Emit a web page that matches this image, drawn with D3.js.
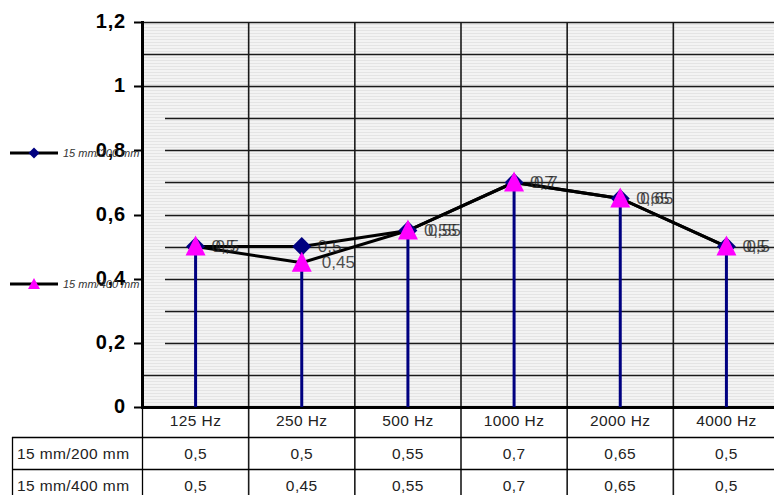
<!DOCTYPE html>
<html><head><meta charset="utf-8">
<script src="https://cdn.jsdelivr.net/npm/d3@7"></script>
<style>body{margin:0;background:#fff}svg{display:block}</style>
</head><body>
<svg id="c" width="774" height="495"></svg>
<script>
const categories = ["125 Hz","250 Hz","500 Hz","1000 Hz","2000 Hz","4000 Hz"];
const seriesNames = ["15 mm/200 mm","15 mm/400 mm"];
const series1 = [0.5,0.5,0.55,0.7,0.65,0.5];
const series2 = [0.5,0.45,0.55,0.7,0.65,0.5];
const yTicks = [0,0.2,0.4,0.6,0.8,1,1.2];
const gridVals = [0.1,0.2,0.3,0.4,0.5,0.6,0.7,0.8,0.9,1.0,1.1,1.2];

const fmt = v => String(+v.toFixed(2)).replace(".", ",");
const svg = d3.select("#c");
const x = d3.scaleBand().domain(categories).range([142.5, 779.5]);
const y = d3.scaleLinear().domain([0,1.2]).range([407, 22]);
const L = 142.5, R = 779.5, T = y(1.2), B = y(0);
const FONT = "Liberation Sans, Arial, Helvetica";

// background stripes
const defs = svg.append("defs");
const pat = defs.append("pattern").attr("id","stripe").attr("patternUnits","userSpaceOnUse")
  .attr("width",8).attr("height",3);
pat.append("rect").attr("width",8).attr("height",3).attr("fill","#f3f3f3");
pat.append("rect").attr("y",0).attr("width",8).attr("height",1).attr("fill","#e4e4e4");
svg.append("rect").attr("x",L).attr("y",T).attr("width",R-L).attr("height",B-T).attr("fill","url(#stripe)");

// horizontal gridlines
svg.append("g").selectAll("line").data(gridVals).join("line")
  .attr("x1", d => (d>=0.15 && d<=0.95) ? 165 : L).attr("x2", R)
  .attr("y1", d => Math.round(y(d))+0.5).attr("y2", d => Math.round(y(d))+0.5)
  .attr("stroke","#1a1a1a").attr("stroke-width",1.6);

// vertical column separators (plot + table)
const bounds = categories.slice(1).map(c => x(c));
svg.append("g").selectAll("line").data(bounds).join("line")
  .attr("x1", d=>d).attr("x2", d=>d).attr("y1", T).attr("y2", 495)
  .attr("stroke","#1a1a1a").attr("stroke-width",1.6);

// table
const tg = svg.append("g");
[437.5, 469.5].forEach(yy => tg.append("line").attr("x1",12).attr("x2",R).attr("y1",yy).attr("y2",yy).attr("stroke","#000").attr("stroke-width",1.3));
tg.append("line").attr("x1",12.5).attr("x2",12.5).attr("y1",437).attr("y2",495).attr("stroke","#000").attr("stroke-width",1.3);
tg.append("line").attr("x1",L).attr("x2",L).attr("y1",407).attr("y2",495).attr("stroke","#000").attr("stroke-width",1.3);
tg.selectAll("text.cat").data(categories).join("text").attr("class","cat")
  .attr("x", d => x(d)+x.bandwidth()/2).attr("y",422).attr("text-anchor","middle").attr("dominant-baseline","middle")
  .attr("font-family",FONT).attr("font-size",15.5).attr("letter-spacing",0.4).attr("fill","#222").text(d=>d);
[series1, series2].forEach((s,i) => {
  const yy = i===0 ? 455 : 487;
  tg.append("text").attr("x",17).attr("y",yy).attr("dominant-baseline","middle")
    .attr("font-family",FONT).attr("font-size",15.5).attr("letter-spacing",0.4).attr("fill","#222").text(seriesNames[i]);
  tg.selectAll("text.v"+i).data(s).join("text").attr("class","v"+i)
    .attr("x",(d,j)=>x(categories[j])+x.bandwidth()/2).attr("y",yy).attr("text-anchor","middle").attr("dominant-baseline","middle")
    .attr("font-family",FONT).attr("font-size",15.5).attr("letter-spacing",0.4).attr("fill","#222").text(d=>fmt(d));
});

// axes
svg.append("line").attr("x1",L).attr("x2",R).attr("y1",B+0.5).attr("y2",B+0.5).attr("stroke","#000").attr("stroke-width",3);
svg.append("line").attr("x1",L).attr("x2",L).attr("y1",T-1).attr("y2",B+2).attr("stroke","#000").attr("stroke-width",3);
svg.append("g").selectAll("line").data(yTicks).join("line")
  .attr("x1",134).attr("x2",L).attr("y1",d=>Math.round(y(d))+0.5).attr("y2",d=>Math.round(y(d))+0.5)
  .attr("stroke","#000").attr("stroke-width",2);

// drop lines
const cx = c => x(c) + x.bandwidth()/2;
svg.append("g").selectAll("line").data(categories).join("line")
  .attr("x1",cx).attr("x2",cx).attr("y1",(c,i)=>y(Math.max(series1[i],series2[i]))).attr("y2",B)
  .attr("stroke","#000080").attr("stroke-width",3);

// lines
const line = d3.line().x((d,i)=>cx(categories[i])).y(d=>y(d));
[series1, series2].forEach(s => svg.append("path").attr("d", line(s)).attr("fill","none").attr("stroke","#000").attr("stroke-width",3));

// markers
const diamond = d3.symbol().type(d3.symbolSquare).size(180);
svg.append("g").selectAll("path").data(series1).join("path")
  .attr("d", diamond()).attr("transform",(d,i)=>`translate(${cx(categories[i])},${y(d)}) rotate(45)`)
  .attr("fill","#000080");
const tri = "M0,-10L10,10L-10,10Z";
svg.append("g").selectAll("path").data(series2).join("path")
  .attr("d", tri).attr("transform",(d,i)=>`translate(${cx(categories[i])},${y(d)-1})`)
  .attr("fill","#ff00ff");

// data labels
[series1, series2].forEach((s,k) => {
  svg.append("g").selectAll("text").data(s).join("text")
    .attr("x",(d,i)=>cx(categories[i]) + 16 + k*4).attr("y",d=>y(d)+1).attr("dominant-baseline","middle")
    .attr("font-family",FONT).attr("font-size",17).attr("fill","#222").attr("fill-opacity",0.8)
    .text(d=>fmt(d));
});

// y tick labels
svg.append("g").selectAll("text").data(yTicks).join("text")
  .attr("x",126).attr("y",d=>y(d)+1).attr("text-anchor","end").attr("dominant-baseline","middle")
  .attr("font-family",FONT).attr("font-weight","bold").attr("font-size",20).attr("letter-spacing",0.8).attr("fill","#000")
  .text(d=>fmt(d));

// legend
const lg = svg.append("g");
[153, 284].forEach((yy,i) => {
  lg.append("line").attr("x1",10).attr("x2",58).attr("y1",yy).attr("y2",yy).attr("stroke","#000").attr("stroke-width",3);
  if (i===0) lg.append("path").attr("d", d3.symbol().type(d3.symbolSquare).size(60)()).attr("transform",`translate(34,${yy}) rotate(45)`).attr("fill","#000080");
  else lg.append("path").attr("d","M0,-6L6,5L-6,5Z").attr("transform",`translate(34,${yy})`).attr("fill","#ff00ff");
  lg.append("text").attr("x",63).attr("y",yy+1).attr("dominant-baseline","middle")
    .attr("font-family",FONT).attr("font-style","italic").attr("font-size",11).attr("fill","#333")
    .text(seriesNames[i]);
});
</script>
</body></html>
